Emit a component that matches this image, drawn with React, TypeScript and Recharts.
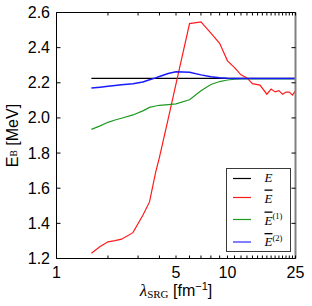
import React from 'react';
import { LineChart, Line, XAxis, YAxis, Legend } from 'recharts';

// lambda_SRG grid [fm^-1] and binding energies [MeV]
const lambdaValues = [1.6, 1.8, 2.0, 2.2, 2.4, 2.8, 3.2, 3.5, 3.8, 4.0, 4.5, 5.0, 6.0, 7.0, 8.0, 9.0, 10, 11, 12, 13, 14, 15.5, 17, 18, 19, 20, 21, 22, 23, 24, 25];
const exactE = [2.225, 2.225, 2.225, 2.225, 2.225, 2.225, 2.225, 2.225, 2.225, 2.225, 2.225, 2.225, 2.225, 2.225, 2.225, 2.225, 2.225, 2.225, 2.225, 2.225, 2.225, 2.225, 2.225, 2.225, 2.225, 2.225, 2.225, 2.225, 2.225, 2.225, 2.225];
const eBar = [1.230, 1.268, 1.295, 1.302, 1.310, 1.347, 1.446, 1.522, 1.690, 1.775, 1.995, 2.194, 2.537, 2.547, 2.483, 2.425, 2.325, 2.286, 2.245, 2.228, 2.195, 2.187, 2.135, 2.164, 2.148, 2.155, 2.135, 2.147, 2.147, 2.130, 2.155];
const eBar1 = [1.935, 1.955, 1.975, 1.988, 1.998, 2.017, 2.040, 2.060, 2.068, 2.072, 2.076, 2.080, 2.103, 2.155, 2.190, 2.207, 2.216, 2.220, 2.222, 2.222, 2.222, 2.222, 2.222, 2.222, 2.222, 2.222, 2.222, 2.222, 2.222, 2.222, 2.222];
const eBar2 = [2.170, 2.175, 2.180, 2.185, 2.189, 2.195, 2.205, 2.217, 2.228, 2.236, 2.253, 2.263, 2.260, 2.245, 2.235, 2.229, 2.226, 2.225, 2.225, 2.225, 2.225, 2.225, 2.225, 2.225, 2.225, 2.225, 2.225, 2.225, 2.225, 2.225, 2.225];

const xLabelTicks = [1, 5, 10, 25];
const xTicks = [1, 2, 3, 4, 5, 6, 7, 8, 9, 10, 11, 12, 13, 14, 15, 16, 17, 18, 19, 20, 21, 22, 23, 24, 25];
const yTicks = [1.2, 1.4, 1.6, 1.8, 2.0, 2.2, 2.4, 2.6];

const colors = { E: '#000000', Ebar: '#ff1a1a', Ebar1: '#1f9a1f', Ebar2: '#1a1aff' };

const data = lambdaValues.map((lambda, i) => ({
  lambda,
  E: exactE[i],
  Ebar: eBar[i],
  Ebar1: eBar1[i],
  Ebar2: eBar2[i],
}));

const SANS = '"Liberation Sans", Arial, Helvetica, sans-serif';
const SERIF = '"Liberation Serif", "DejaVu Serif", serif';

function BottomTick({ x, y, payload }: any) {
  const v = payload.value;
  return (
    <g>
      <line x1={x} x2={x} y1={y} y2={y - 3} stroke="#000" />
      {xLabelTicks.includes(v) && (
        <text x={x} y={y + 19.5} textAnchor="middle" fontSize={16} fontFamily={SANS} fill="#000">
          {v}
        </text>
      )}
    </g>
  );
}

function TopTick({ x, y }: any) {
  return <line x1={x} x2={x} y1={y} y2={y + 3} stroke="#000" />;
}

function LeftTick({ x, y, payload }: any) {
  return (
    <g>
      <line x1={x} x2={x + 4} y1={y} y2={y} stroke="#000" />
      <text x={x - 6.5} y={y + 5.5} textAnchor="end" fontSize={16} fontFamily={SANS} fill="#000">
        {Number(payload.value).toFixed(1)}
      </text>
    </g>
  );
}

function RightTick({ x, y }: any) {
  return <line x1={x} x2={x - 4} y1={y} y2={y} stroke="#000" />;
}

function XTitle({ viewBox }: any) {
  const vb = viewBox || { x: 56.5, y: 258.5, width: 239 };
  const cx = vb.x + vb.width / 2;
  return (
    <text x={cx} y={295.5} textAnchor="middle" fontFamily={SANS} fontSize={16} fill="#000">
      <tspan fontFamily={SERIF} fontStyle="italic" fontSize={17}>λ</tspan>
      <tspan fontFamily={SERIF} fontSize={11} dy={2}>SRG</tspan>
      <tspan dy={-2}> [fm</tspan>
      <tspan fontSize={11} dy={-6}>−1</tspan>
      <tspan dy={6}>]</tspan>
    </text>
  );
}

function YTitle({ viewBox }: any) {
  const vb = viewBox || { x: 56.5, y: 12.5, height: 246 };
  const x = 17.5;
  const y = vb.y + vb.height / 2;
  return (
    <text x={x} y={y} transform={`rotate(-90 ${x} ${y})`} textAnchor="middle" fontFamily={SANS} fontSize={16} fill="#000">
      <tspan>E</tspan>
      <tspan fontFamily={SERIF} fontSize={9.5} dy={-0.5}>B</tspan>
      <tspan dy={0.5}> [MeV]</tspan>
    </text>
  );
}

const legendRows = [
  { key: 'E', lineY: 10.5, baseY: 14, bar: false, sup: '' },
  { key: 'Ebar', lineY: 29.5, baseY: 34.5, bar: true, sup: '' },
  { key: 'Ebar1', lineY: 51.5, baseY: 56.5, bar: true, sup: '(1)' },
  { key: 'Ebar2', lineY: 74, baseY: 78, bar: true, sup: '(2)' },
];

function LegendBox() {
  return (
    <svg width={65} height={84} style={{ display: 'block' }}>
      <rect x={0.5} y={0.5} width={64} height={83} fill="#fff" stroke="#3a3a3a" />
      {legendRows.map((r) => (
        <g key={r.key}>
          <line
            x1={7}
            x2={25}
            y1={r.lineY}
            y2={r.lineY}
            stroke={r.key === 'Ebar2' ? '#7f7fff' : (colors as any)[r.key]}
            strokeWidth={r.key === 'Ebar2' ? 2 : 1.2}
          />
          <text x={38.5} y={r.baseY} fontFamily={SERIF} fontSize={13} fill="#000">
            <tspan fontStyle="italic" style={{ textDecoration: r.bar ? 'overline' : 'none' }}>E</tspan>
            {r.sup && (
              <tspan fontSize={8.5} dy={-5.5}>{r.sup}</tspan>
            )}
          </text>
        </g>
      ))}
    </svg>
  );
}

export default function App() {
  return (
    <div style={{ position: 'absolute', left: 0, top: 0, background: '#fff' }}>
      <LineChart width={312} height={306} data={data} margin={{ top: 11.5, right: 15.5, bottom: 46.5, left: 55.5 }}>
        <XAxis
          xAxisId="b"
          dataKey="lambda"
          type="number"
          scale="log"
          domain={[1, 25]}
          allowDataOverflow
          ticks={xTicks}
          interval={0}
          tick={<BottomTick />}
          tickLine={false}
          tickSize={0}
          tickMargin={0}
          height={1}
          axisLine={{ stroke: '#000' }}
          label={<XTitle />}
        />
        <XAxis
          xAxisId="t"
          orientation="top"
          dataKey="lambda"
          type="number"
          scale="log"
          domain={[1, 25]}
          allowDataOverflow
          ticks={xTicks}
          interval={0}
          tick={<TopTick />}
          tickLine={false}
          tickSize={0}
          tickMargin={0}
          height={1}
          axisLine={{ stroke: '#000' }}
        />
        <YAxis
          yAxisId="l"
          type="number"
          domain={[1.2, 2.6]}
          allowDataOverflow
          ticks={yTicks}
          interval={0}
          tick={<LeftTick />}
          tickLine={false}
          tickSize={0}
          tickMargin={0}
          width={1}
          axisLine={{ stroke: '#000' }}
          label={<YTitle />}
        />
        <YAxis
          yAxisId="r"
          orientation="right"
          type="number"
          domain={[1.2, 2.6]}
          allowDataOverflow
          ticks={yTicks}
          interval={0}
          tick={<RightTick />}
          tickLine={false}
          tickSize={0}
          tickMargin={0}
          width={1}
          axisLine={{ stroke: '#808080', strokeWidth: 2 }}
        />
        <Line xAxisId="b" yAxisId="l" type="linear" dataKey="E" stroke={colors.E} strokeWidth={1.2} dot={false} isAnimationActive={false} />
        <Line xAxisId="b" yAxisId="l" type="linear" dataKey="Ebar" stroke={colors.Ebar} strokeWidth={1.2} dot={false} isAnimationActive={false} />
        <Line xAxisId="b" yAxisId="l" type="linear" dataKey="Ebar1" stroke={colors.Ebar1} strokeWidth={1.2} dot={false} isAnimationActive={false} />
        <Line xAxisId="b" yAxisId="l" type="linear" dataKey="Ebar2" stroke={colors.Ebar2} strokeWidth={1.5} dot={false} isAnimationActive={false} />
        <Legend
          layout="horizontal"
          verticalAlign="middle"
          align="center"
          content={() => <LegendBox />}
          wrapperStyle={{ left: 226, top: 168, width: 66, height: 85 }}
        />
      </LineChart>
    </div>
  );
}
